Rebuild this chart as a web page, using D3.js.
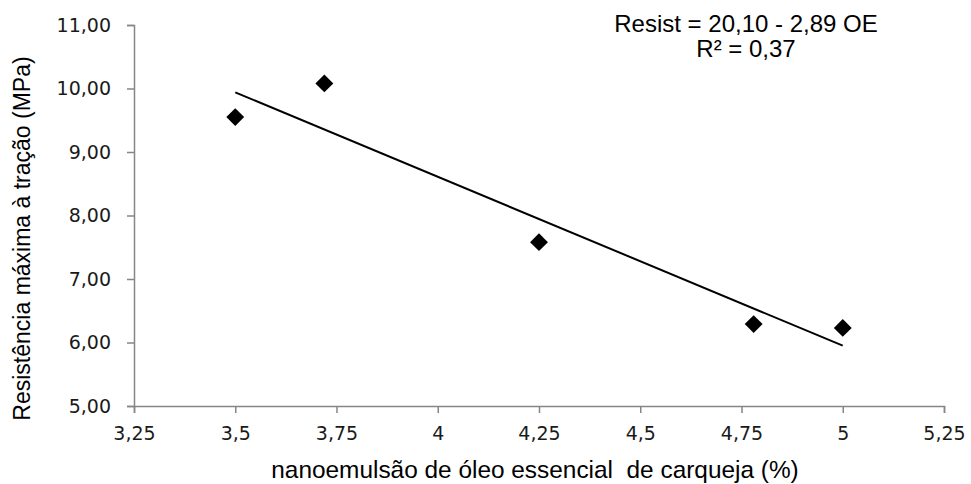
<!DOCTYPE html>
<html>
<head>
<meta charset="utf-8">
<script src="https://cdn.jsdelivr.net/npm/d3@7"></script>
<style>
  html, body { margin: 0; padding: 0; background: #fff; }
  svg { display: block; }
</style>
</head>
<body>
<svg id="chart" width="971" height="484"></svg>
<script>
// ---- data ----
const xValues = [3.5, 3.72, 4.25, 4.78, 5.0];
const yValues = [9.55, 10.08, 7.58, 6.29, 6.23];
const trendX = [3.5, 5.0];
const trendY = [9.94, 5.95];
const xTicks = [3.25, 3.5, 3.75, 4, 4.25, 4.5, 4.75, 5, 5.25];
const xTickLabels = ["3,25", "3,5", "3,75", "4", "4,25", "4,5", "4,75", "5", "5,25"];
const yTicks = [5, 6, 7, 8, 9, 10, 11];
const yTickLabels = ["5,00", "6,00", "7,00", "8,00", "9,00", "10,00", "11,00"];
const xTitle = "nanoemulsão de óleo essencial\u00A0 de carqueja (%)";
const yTitle = "Resistência máxima à tração (MPa)";
const equationLines = ["Resist = 20,10 - 2,89 OE", "R² = 0,37"];

// ---- layout ----
const svg = d3.select("#chart");
const x = d3.scaleLinear().domain([3.25, 5.25]).range([134, 944]);
const y = d3.scaleLinear().domain([5, 11]).range([406, 25]);
const axisColor = "#868686";
const tickFont = "'DejaVu Sans', Verdana, sans-serif";
const titleFont = "'Liberation Sans', Arial, sans-serif";

// x axis
const xAxis = d3.axisBottom(x)
  .tickValues(xTicks)
  .tickSize(7)
  .tickPadding(14)
  .tickFormat((d, i) => xTickLabels[i]);
const gx = svg.append("g").attr("transform", `translate(0,${y(5)})`).call(xAxis);
gx.select(".domain").attr("stroke", axisColor).attr("stroke-width", 1.5);
gx.selectAll(".tick line").attr("stroke", axisColor).attr("stroke-width", 1.5);
gx.selectAll(".tick text")
  .attr("fill", "#1a1a1a")
  .style("font-family", tickFont)
  .style("font-size", "19px");

// y axis
const yAxis = d3.axisLeft(y)
  .tickValues(yTicks)
  .tickSize(7)
  .tickPadding(16)
  .tickFormat((d, i) => yTickLabels[i]);
const gy = svg.append("g").attr("transform", `translate(${x(3.25)},0)`).call(yAxis);
gy.select(".domain").attr("stroke", axisColor).attr("stroke-width", 1.5);
gy.selectAll(".tick line").attr("stroke", axisColor).attr("stroke-width", 1.5);
gy.selectAll(".tick text")
  .attr("fill", "#1a1a1a")
  .style("font-family", tickFont)
  .style("font-size", "19px");

// trendline
svg.append("path")
  .datum(trendX.map((v, i) => [v, trendY[i]]))
  .attr("fill", "none")
  .attr("stroke", "#000")
  .attr("stroke-width", 2)
  .attr("d", d3.line().x(d => x(d[0])).y(d => y(d[1])));

// points (diamonds)
const diamond = d3.symbol().type(d3.symbolSquare).size(160);
svg.append("g").selectAll("path")
  .data(xValues.map((v, i) => [v, yValues[i]]))
  .join("path")
  .attr("d", diamond)
  .attr("fill", "#000")
  .attr("transform", d => `translate(${x(d[0])},${y(d[1])}) rotate(45)`);

// axis titles
svg.append("text")
  .attr("x", 535).attr("y", 478)
  .attr("text-anchor", "middle")
  .style("font-family", titleFont)
  .style("font-size", "24.4px")
  .attr("fill", "#000")
  .text(xTitle);

svg.append("text")
  .attr("transform", "translate(30,238.5) rotate(-90)")
  .attr("text-anchor", "middle")
  .style("font-family", titleFont)
  .style("font-size", "23px")
  .attr("fill", "#000")
  .text(yTitle);

// equation
svg.append("g").selectAll("text")
  .data(equationLines)
  .join("text")
  .attr("x", 746)
  .attr("y", (d, i) => 31.5 + i * 25.5)
  .attr("text-anchor", "middle")
  .style("font-family", titleFont)
  .style("font-size", "24px")
  .attr("fill", "#000")
  .text(d => d);
</script>
</body>
</html>
